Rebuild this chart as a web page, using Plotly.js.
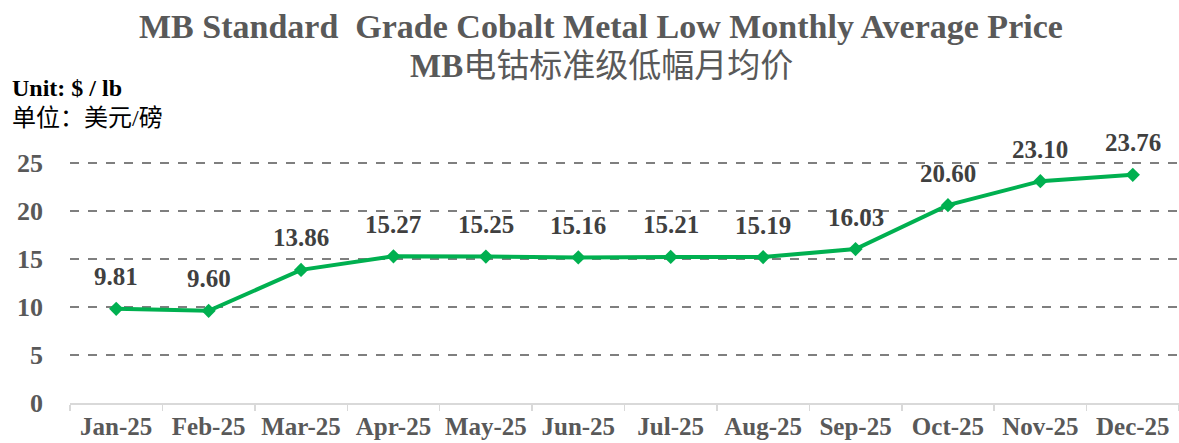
<!DOCTYPE html>
<html>
<head>
<meta charset="utf-8">
<script src="https://cdn.plot.ly/plotly-3.0.1.min.js"></script>
<style>html,body{margin:0;padding:0;background:#fff;}#chart{width:1179px;height:443px;}</style>
</head>
<body>
<div id="chart"></div>
<script>
const months = ["Jan-25","Feb-25","Mar-25","Apr-25","May-25","Jun-25","Jul-25","Aug-25","Sep-25","Oct-25","Nov-25","Dec-25"];
const prices = [9.81, 9.60, 13.86, 15.27, 15.25, 15.16, 15.21, 15.19, 16.03, 20.60, 23.10, 23.76];
const yTicks = [0, 5, 10, 15, 20, 25];
const titleEn = "MB Standard  Grade Cobalt Metal Low Monthly Average Price";
const titleZhPrefix = "MB";
const titleZh = "电钴标准级低幅月均价";
const unitEn = "Unit: $ / lb";
const unitZh = "单位：美元/磅";

const serif = "'Liberation Serif', 'Times New Roman', 'Noto Sans CJK SC', serif";
const cjk = "'Liberation Serif', 'Noto Sans CJK SC', serif";

const trace = {
  x: months, y: prices, type: 'scatter', mode: 'lines+markers',
  line: {color: '#00B050', width: 4},
  marker: {symbol: 'diamond', size: 11, color: '#00B050'},
  cliponaxis: false, hoverinfo: 'x+y'
};

const labelAnns = months.map((m, i) => ({
  x: m, y: prices[i], xref: 'x', yref: 'y', text: '<b>' + prices[i].toFixed(2) + '</b>',
  showarrow: false, yshift: 32, yanchor: 'middle',
  font: {family: serif, size: 25, color: '#404040'}
}));

const textAnns = [
  {text: '<b>' + titleEn + '</b>', x: 601, y: 27, font: {family: serif, size: 34, color: '#595959'}, xanchor: 'center'},
  {text: '<b>' + titleZhPrefix + '</b>' + titleZh, x: 601, y: 66, font: {family: cjk, size: 33, color: '#595959'}, xanchor: 'center'},
  {text: '<b>' + unitEn + '</b>', x: 10, y: 88, font: {family: serif, size: 24, color: '#000'}, xanchor: 'left'},
  {text: unitZh, x: 10, y: 118, font: {family: cjk, size: 24, color: '#000'}, xanchor: 'left'}
].map(a => Object.assign({xref: 'paper', yref: 'paper', showarrow: false, yanchor: 'middle'}, a));

// convert pixel positions to paper coords
const W = 1179, H = 443, mL = 70, mR = 0, mT = 160, mB = 40;
textAnns.forEach(a => {
  a.x = (a.x - mL) / (W - mL - mR);
  a.y = 1 - (a.y - mT) / (H - mT - mB);
});

const layout = {
  width: W, height: H,
  margin: {l: mL, r: mR, t: mT, b: mB},
  paper_bgcolor: '#fff', plot_bgcolor: '#fff',
  showlegend: false,
  xaxis: {
    type: 'category', tickson: 'boundaries', ticks: 'outside', ticklen: 6, tickcolor: '#d9d9d9', tickwidth: 1.5,
    showline: true, linecolor: '#d9d9d9', linewidth: 2, showgrid: false,
    tickfont: {family: serif, size: 25, color: '#595959', weight: 'bold'},
    ticklabelstandoff: 0,
    range: [-0.5, 11.5], fixedrange: true
  },
  yaxis: {
    range: [0, 25.3], tickvals: yTicks, ticktext: yTicks.map(String),
    showgrid: true, gridcolor: '#7f7f7f', griddash: 'dash', gridwidth: 1.5,
    zeroline: false, showline: false, ticks: '',
    tickfont: {family: serif, size: 26, color: '#595959', weight: 'bold'},
    ticklabelstandoff: 26, fixedrange: true
  },
  annotations: labelAnns.concat(textAnns)
};

Plotly.newPlot('chart', [trace], layout, {displayModeBar: false, staticPlot: true});
</script>
</body>
</html>
